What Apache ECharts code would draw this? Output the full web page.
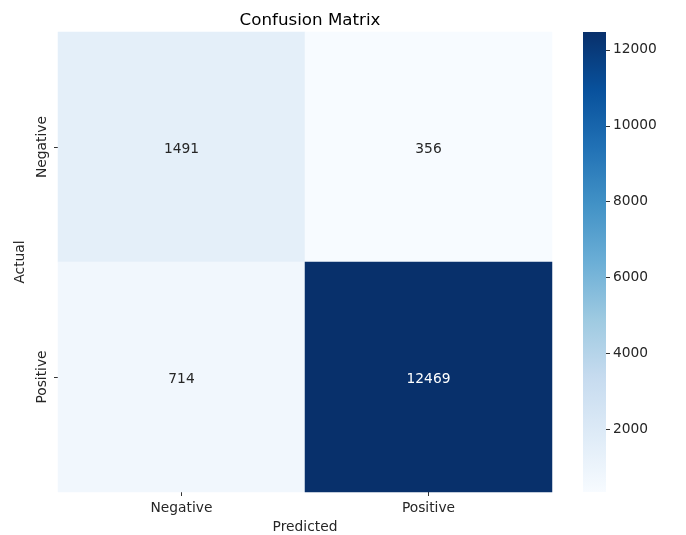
<!DOCTYPE html>
<html>
<head>
<meta charset="utf-8">
<script src="https://cdn.jsdelivr.net/npm/echarts@6/dist/echarts.min.js"></script>
<style>
  html, body { margin: 0; padding: 0; background: #fff; }
  #main { width: 686px; height: 535px; }
</style>
</head>
<body>
<div id="main"></div>
<script>
// confusion matrix values, row = actual, column = predicted
var predictedLabels = ['Negative', 'Positive'];
var actualLabels = ['Negative', 'Positive'];
var rowNegative = [1491, 356];
var rowPositive = [714, 12469];
var colorbarTicks = [2000, 4000, 6000, 8000, 10000, 12000];

// matplotlib "Blues"
var blues = ['#f7fbff', '#deebf7', '#c6dbef', '#9ecae1', '#6baed6',
             '#4292c6', '#2171b5', '#08519c', '#08306b'];

var rows = [rowNegative, rowPositive];
var allVals = rowNegative.concat(rowPositive);
var vmin = Math.min.apply(null, allVals);
var vmax = Math.max.apply(null, allVals);

var cells = [];
rows.forEach(function (row, r) {
    row.forEach(function (v, c) {
        cells.push({
            value: [c, r, v],
            label: { color: v > (vmin + vmax) / 2 ? '#ffffff' : '#262626' }
        });
    });
});

// gradient for the colorbar, top = max
var barStops = blues.map(function (c, i) {
    return { offset: 1 - i / (blues.length - 1), color: c };
});

var font = 'DejaVu Sans';
var fs = 13.8;
var myChart = echarts.init(document.getElementById('main'));

var option = {
    animation: false,
    textStyle: { fontFamily: font },
    title: {
        text: 'Confusion Matrix',
        left: 305,
        textAlign: 'center',
        top: 7,
        textStyle: { fontFamily: font, fontSize: 16.7, fontWeight: 'normal', color: '#000' }
    },
    grid: [
        { left: 58, right: 134, top: 32, bottom: 43, outerBoundsMode: 'none', containLabel: false },
        { left: 583, width: 23, top: 32, bottom: 43, outerBoundsMode: 'none', containLabel: false }
    ],
    xAxis: [{
        type: 'category',
        gridIndex: 0,
        data: predictedLabels,
        name: 'Predicted',
        nameLocation: 'middle',
        nameGap: 28,
        nameTextStyle: { fontFamily: font, fontSize: fs, color: '#262626' },
        axisLine: { show: false },
        axisTick: { show: true, alignWithLabel: true, length: 4, lineStyle: { color: '#333' } },
        axisLabel: { fontFamily: font, fontSize: fs, color: '#262626', margin: 9 },
        splitLine: { show: false }
    }, {
        type: 'category',
        gridIndex: 1,
        data: [''],
        show: false
    }],
    yAxis: [{
        type: 'category',
        gridIndex: 0,
        data: actualLabels,
        inverse: true,
        name: 'Actual',
        nameLocation: 'middle',
        nameGap: 30,
        nameTextStyle: { fontFamily: font, fontSize: fs, color: '#262626' },
        axisLine: { show: false },
        axisTick: { show: true, alignWithLabel: true, length: 4, lineStyle: { color: '#333' } },
        axisLabel: { fontFamily: font, fontSize: fs, color: '#262626', rotate: 90, margin: 9 },
        splitLine: { show: false }
    }, {
        type: 'value',
        gridIndex: 1,
        position: 'right',
        min: vmin,
        max: vmax,
        axisLine: { show: true, lineStyle: { color: 'rgba(0,0,0,0)' } },
        axisTick: { show: true, length: 4, customValues: colorbarTicks, lineStyle: { color: '#333', width: 1 } },
        axisLabel: {
            fontFamily: font, fontSize: fs, color: '#262626', margin: 7,
            customValues: colorbarTicks,
            formatter: function (v) { return String(v); }
        },
        splitLine: { show: false }
    }],
    visualMap: {
        type: 'continuous',
        show: false,
        min: vmin,
        max: vmax,
        seriesIndex: 0,
        inRange: { color: blues }
    },
    series: [{
        type: 'heatmap',
        xAxisIndex: 0,
        yAxisIndex: 0,
        data: cells,
        label: { show: true, fontFamily: font, fontSize: fs, offset: [0, 2] },
        itemStyle: { borderWidth: 0 },
        emphasis: { disabled: true }
    }, {
        // colorbar
        type: 'bar',
        xAxisIndex: 1,
        yAxisIndex: 1,
        data: [vmax],
        barWidth: '100%',
        silent: true,
        itemStyle: {
            color: new echarts.graphic.LinearGradient(0, 0, 0, 1, barStops)
        }
    }]
};

myChart.setOption(option);
</script>
</body>
</html>
